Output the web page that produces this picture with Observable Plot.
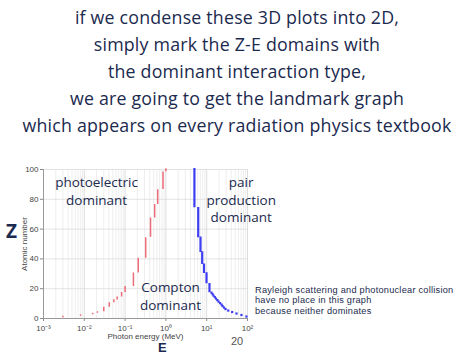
<!DOCTYPE html>
<html>
<head>
<meta charset="utf-8">
<script src="https://cdn.jsdelivr.net/npm/d3@7"></script>
<script src="https://cdn.jsdelivr.net/npm/@observablehq/plot@0.6"></script>
<style>
  html, body { margin: 0; padding: 0; background: #fff; }
  #slide { position: relative; width: 474px; height: 355px; overflow: hidden; font-family: "Open Sans", "Noto Sans", sans-serif; color: #1b2a4e; }
  #title { position: absolute; left: 0; top: 4px; width: 474px; text-align: center; font-size: 17.8px; line-height: 27px; letter-spacing: 0.2px; }
  .note { position: absolute; white-space: nowrap; }
  #chart { position: absolute; left: 0; top: 0; }
</style>
</head>
<body>
<div id="slide">
  <div id="chart"></div>
  <div id="title"></div>
  <div class="note" id="zlab" style="left:6px; top:220px; font-size:19px; line-height:22px; font-weight:bold;">Z</div>
  <div class="note" id="elab" style="left:158px; top:341px; font-family:'Liberation Sans', Arial, sans-serif; font-size:13px; line-height:14px; font-weight:bold;">E</div>
  <div class="note" id="page" style="left:231px; top:335px; font-family:'Liberation Sans', Arial, sans-serif; font-size:11px; line-height:13px; color:#555;">20</div>
  <div class="note" id="rayleigh" style="left:255px; top:285px; font-family:'Liberation Sans', Arial, sans-serif; font-size:9.2px; line-height:10.4px; letter-spacing:0.25px;"></div>
</div>
<script>
// ---- text ----
const titleLines = [
  "if we condense these 3D plots into 2D,",
  "simply mark the Z-E domains with",
  "the dominant interaction type,",
  "we are going to get the landmark graph",
  "which appears on every radiation physics textbook"
];
const noteLines = [
  "Rayleigh scattering and photonuclear collision",
  "have no place in this graph",
  "because neither dominates"
];
// ---- data: photoelectric / Compton boundary (energy MeV, Z range) ----
const peE   = [1.0, 0.85, 0.63, 0.53, 0.42, 0.32, 0.21, 0.16, 0.10, 0.082, 0.064, 0.053, 0.041, 0.030, 0.021, 0.016, 0.0081, 0.003];
const peZlo = [99,  87,   77,   68,   55,   41,   31,   22,   18,   15,    13,    11,    8,     5,     4,     3,     2,      1];
const peZhi = [100, 98,   86,   76,   67,   54,   40,   30,   21,   17,    14,    12,    10,    7,     4,     3,     2,      1];
// ---- data: Compton / pair production boundary ----
const ppE   = [5.0, 6.2, 7.05, 7.76, 8.6, 9.9, 11.7, 13.1, 13.9, 14.7, 15.8, 16.9, 18.2, 19.5, 21.2, 23.1, 24.4, 26.5, 28.9, 33.7, 42, 53.7, 71, 94];
const ppZlo = [75,  55,  45,   37,   31,  24,  18,   17,   16,   15,   14,   13,   12,   11,   10,   9,    8,    7,    6,    5,    4,  3,    2,  1];
const ppZhi = [100, 74,  54,   44,   36,  30,  23,   17,   16,   15,   14,   13,   12,   11,   10,   9,    8,    7,    6,    5,    4,  3,    2,  1];
// ---- labels & ticks ----
const regionLabels = [
  {text: "photoelectric\ndominant", E: 0.02, Z: 86},
  {text: "Compton\ndominant", E: 1.3, Z: 15.5},
  {text: "pair\nproduction\ndominant", E: 70, Z: 80}
];
const xTicks = [1e-3, 1e-2, 1e-1, 1e0, 1e1, 1e2];
const xTickLabels = ["10⁻³", "10⁻²", "10⁻¹", "10⁰", "10¹", "10²"];
const yTicks = [0, 20, 40, 60, 80, 100];

const pe = peE.map((E, i) => ({E, zlo: peZlo[i], zhi: peZhi[i]}));
const pp = ppE.map((E, i) => ({E, zlo: ppZlo[i], zhi: ppZhi[i]}));
const minorX = d3.scaleLog().domain([1e-3, 1e2]).ticks().filter(t => !xTicks.some(m => Math.abs(m - t) / m < 1e-6));

document.getElementById("title").innerHTML = titleLines.join("<br>");
document.getElementById("rayleigh").innerHTML = noteLines.join("<br>");

const axisFont = "Liberation Sans, Arial, sans-serif";
const chart = Plot.plot({
  width: 474,
  height: 355,
  marginLeft: 43,
  marginRight: 227,
  marginTop: 169,
  marginBottom: 37,
  style: {fontFamily: "Open Sans, sans-serif", background: "transparent", overflow: "visible"},
  x: {type: "log", domain: [1e-3, 1e2], axis: null},
  y: {domain: [0, 100], axis: null},
  marks: [
    Plot.gridX(minorX, {stroke: "#e6e6e6", strokeOpacity: 1, strokeWidth: 0.7}),
    Plot.gridX(xTicks, {stroke: "#d4d4d4", strokeOpacity: 1, strokeWidth: 0.8}),
    Plot.gridY(yTicks, {stroke: "#dcdcdc", strokeOpacity: 1, strokeWidth: 0.8}),
    Plot.axisX(xTicks, {tickFormat: d => xTickLabels[xTicks.indexOf(d)], tickSize: 3, tickPadding: 3.5, fontSize: 8, fontFamily: axisFont, stroke: "#888", fill: "#444", label: "Photon energy (MeV)", labelAnchor: "center", labelArrow: "none", labelOffset: 20}),
    Plot.axisY(yTicks, {tickSize: 3, tickPadding: 2, fontSize: 8, fontFamily: axisFont, stroke: "#888", fill: "#444", label: "Atomic number", labelAnchor: "center", labelArrow: "none", labelOffset: 22}),
    Plot.ruleY([0], {stroke: "#999"}),
    Plot.ruleX([1e-3], {stroke: "#999"}),
    Plot.ruleX(pe, {x: "E", y1: "zlo", y2: "zhi", stroke: "#ee6b78", strokeWidth: 1.5, strokeLinecap: "square", strokeDasharray: "2 0.8"}),
    Plot.ruleX(pp, {x: "E", y1: "zlo", y2: "zhi", stroke: "#3d3df2", strokeWidth: 2.2, strokeLinecap: "square", strokeDasharray: "2 0.6"}),
    Plot.text(regionLabels, {x: "E", y: "Z", text: "text", fill: "#1b2a4e", fontSize: 13.5, lineHeight: 1.3, textAnchor: "middle"})
  ]
});
document.getElementById("chart").appendChild(chart);
</script>
</body>
</html>
